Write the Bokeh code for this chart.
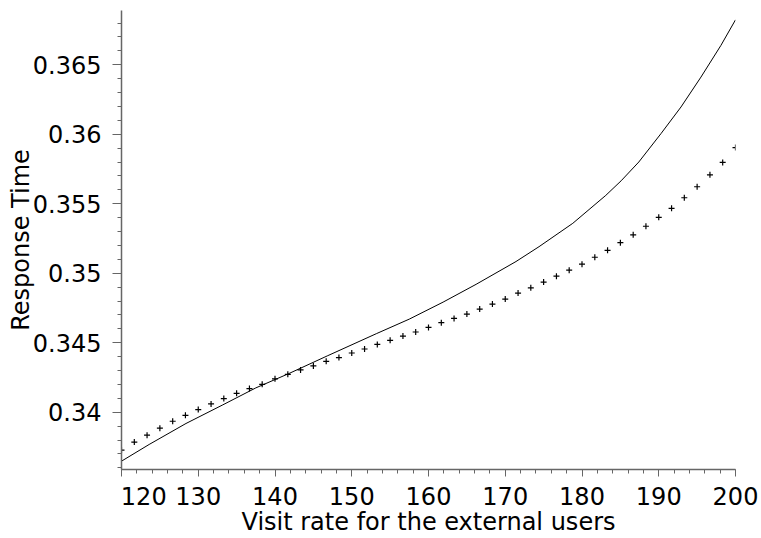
from bokeh.plotting import figure
from bokeh.models import (Range1d, SingleIntervalTicker, FixedTicker, LinearAxis,
                          CustomLabelingPolicy)
from bokeh.embed import file_html
from bokeh.resources import INLINE

# ---- data ----
curve_x = [120.0, 123.6, 128.4, 133.2, 137.5, 141.8, 146.8, 153.2, 157.5, 161.9,
           166.2, 171.4, 174.4, 178.8, 183.1, 185.1, 187.4, 190.3, 192.9, 195.5,
           198.1, 200.0]
curve_y = [0.33648, 0.33768, 0.33919, 0.34053, 0.34175, 0.34278, 0.34405, 0.34565,
           0.34670, 0.34792, 0.34920, 0.35084, 0.35191, 0.35359, 0.35560, 0.35665,
           0.35800, 0.36005, 0.36196, 0.36411, 0.36639, 0.36823]

pts_x = [120.00, 121.67, 123.33, 125.00, 126.67, 128.33, 130.00, 131.67, 133.33, 135.00,
         136.67, 138.33, 140.00, 141.67, 143.33, 145.00, 146.67, 148.33, 150.00, 151.67,
         153.33, 155.00, 156.67, 158.33, 160.00, 161.67, 163.33, 165.00, 166.67, 168.33,
         170.00, 171.67, 173.33, 175.00, 176.67, 178.33, 180.00, 181.67, 183.33, 185.00,
         186.67, 188.33, 190.00, 191.67, 193.33, 195.00, 196.67, 198.33, 200.00]
pts_y = [0.33727, 0.33785, 0.33835, 0.33885, 0.33935, 0.33978, 0.34019, 0.34060, 0.34098, 0.34136,
         0.34170, 0.34201, 0.34240, 0.34273, 0.34304, 0.34333, 0.34366, 0.34393, 0.34426, 0.34455,
         0.34488, 0.34517, 0.34548, 0.34577, 0.34610, 0.34644, 0.34675, 0.34706, 0.34742, 0.34778,
         0.34814, 0.34857, 0.34895, 0.34936, 0.34979, 0.35022, 0.35065, 0.35115, 0.35165, 0.35220,
         0.35276, 0.35338, 0.35402, 0.35467, 0.35543, 0.35622, 0.35708, 0.35797, 0.35904]

# x tick labels: the first one is drawn shifted right of its tick, as in the reference
x_label_pos = [122.9, 130, 140, 150, 160, 170, 180, 190, 200]
x_label_txt = ["120", "130", "140", "150", "160", "170", "180", "190", "200"]

x_title = "Visit rate for the external users"
y_title = "Response Time"

X0, X1 = 120.0, 200.0
Y0, Y1 = 0.33588, 0.36890

FONT = "DejaVu Sans"
FS = "24px"
AX = "#666666"

p = figure(width=761, height=538, output_backend="svg", toolbar_location=None,
           x_range=Range1d(X0, X1), y_range=Range1d(Y0, Y1),
           min_border_left=121, min_border_right=26, min_border_top=10, min_border_bottom=68)
p.outline_line_color = None
p.xgrid.visible = False
p.ygrid.visible = False
p.background_fill_color = "white"
p.border_fill_color = "white"

# main x axis: line and ticks only (its labels are filtered out)
xa = p.xaxis[0]
xa.ticker = SingleIntervalTicker(interval=10, num_minor_ticks=5)
xa.axis_line_color = AX
xa.axis_line_width = 1.5
xa.major_tick_line_color = AX
xa.minor_tick_line_color = AX
xa.major_tick_in = 0
xa.minor_tick_in = 0
xa.major_tick_out = 7
xa.minor_tick_out = 4
xa.major_label_standoff = 0
xa.major_label_text_font = FONT
xa.major_label_text_font_size = "1px"
xa.major_label_policy = CustomLabelingPolicy(code="for (const i of indices) indices.unset(i)\nreturn indices")

# label axis: tick labels and the x title
xl = LinearAxis(ticker=FixedTicker(ticks=x_label_pos),
                major_label_overrides={v: t for v, t in zip(x_label_pos, x_label_txt)})
xl.axis_line_color = None
xl.major_tick_line_color = None
xl.minor_tick_line_color = None
xl.major_tick_in = 0
xl.major_tick_out = 0
xl.minor_tick_out = 0
xl.major_label_standoff = 6
xl.major_label_text_font = FONT
xl.major_label_text_font_size = FS
xl.major_label_text_color = "black"
xl.axis_label = x_title
xl.axis_label_text_font = FONT
xl.axis_label_text_font_size = FS
xl.axis_label_text_font_style = "normal"
xl.axis_label_text_color = "black"
xl.axis_label_standoff = 0
p.add_layout(xl, "below")

ya = p.yaxis[0]
ya.ticker = SingleIntervalTicker(interval=0.005, num_minor_ticks=5)
ya.major_label_overrides = {0.34: "0.34", 0.345: "0.345", 0.35: "0.35",
                            0.355: "0.355", 0.36: "0.36", 0.365: "0.365"}
ya.axis_line_color = AX
ya.axis_line_width = 1.5
ya.major_tick_line_color = AX
ya.minor_tick_line_color = AX
ya.major_tick_in = 0
ya.minor_tick_in = 0
ya.major_tick_out = 9
ya.minor_tick_out = 4
ya.major_label_standoff = 11
ya.major_label_text_font = FONT
ya.major_label_text_font_size = FS
ya.major_label_text_color = "black"
ya.axis_label = y_title
ya.axis_label_text_font = FONT
ya.axis_label_text_font_size = FS
ya.axis_label_text_font_style = "normal"
ya.axis_label_text_color = "black"
ya.axis_label_standoff = -5

p.line(curve_x, curve_y, line_color="black", line_width=1)
p.scatter(pts_x, pts_y, marker="cross", size=6, line_color="black", line_width=1.2)

open("out.html", "w").write(file_html(p, INLINE))
